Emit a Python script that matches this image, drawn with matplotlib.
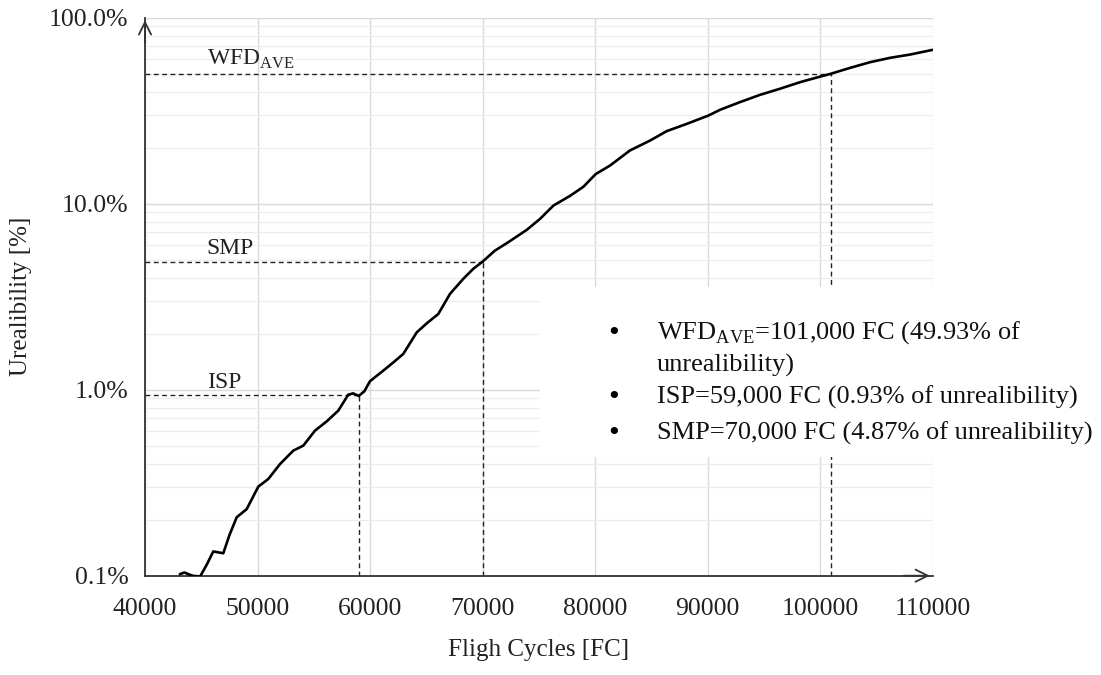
import numpy as np
import matplotlib
matplotlib.use('Agg')
import matplotlib.pyplot as plt
from matplotlib.ticker import FixedLocator, FuncFormatter, LogLocator, NullFormatter
from matplotlib.patches import Rectangle

plt.rcParams['font.family'] = ['Liberation Serif', 'DejaVu Serif']
plt.rcParams['mathtext.fontset'] = 'custom'
plt.rcParams['mathtext.rm'] = 'Liberation Serif'

# curve: flight cycles vs unreliability [%]
fc = [43100, 43500, 44200, 44900, 45500, 46070, 46960, 47500, 48150, 49040,
      50070, 50960, 52000, 53180, 54070, 55110, 56150, 57180, 58070, 58500,
      59000, 59500, 60000, 61180, 62070, 62960, 64150, 65040, 66070, 67110,
      68290, 69180, 70000, 71110, 72150, 73930, 75110, 76300, 77780, 78960,
      80060, 81330, 83110, 84890, 86370, 88150, 90070, 91110, 92890, 94670,
      96440, 98220, 100060, 101000, 102670, 104440, 106220, 108000, 110000]
unrel = [0.102, 0.104, 0.100, 0.099, 0.115, 0.135, 0.132, 0.165, 0.206, 0.228,
         0.301, 0.331, 0.398, 0.470, 0.50, 0.602, 0.675, 0.771, 0.94, 0.955,
         0.925, 0.98, 1.11, 1.265, 1.40, 1.556, 2.03, 2.27, 2.55, 3.27,
         3.94, 4.46, 4.87, 5.59, 6.12, 7.22, 8.27, 9.75, 11.0, 12.3,
         14.4, 16.0, 19.3, 21.8, 24.5, 26.8, 29.7, 31.9, 35.1, 38.4,
         41.4, 44.9, 48.2, 49.93, 53.6, 57.5, 60.7, 63.2, 67.0]

# marked points
mark_names = [r'WFD$_{\mathrm{AVE}}$', 'SMP', 'ISP']
mark_fc = [101000, 70000, 59000]
mark_val = [49.93, 4.87, 0.93]

legend_lines = [r'WFD$_{\mathrm{AVE}}$=101,000 FC (49.93% of',
                'unrealibility)',
                'ISP=59,000 FC (0.93% of unrealibility)',
                'SMP=70,000 FC (4.87% of unrealibility)']

W, H = 1101, 675
fig = plt.figure(figsize=(W / 100, H / 100), dpi=100)
ax = fig.add_axes([145 / W, 1 - 575.7 / H, (932.5 - 145) / W, (575.7 - 17.5) / H])

ax.set_yscale('log')
ax.set_xlim(40000, 110000)
ax.set_ylim(0.1, 100)

ax.xaxis.set_major_locator(FixedLocator(np.arange(40000, 110001, 10000)))
ax.yaxis.set_major_locator(FixedLocator([0.1, 1, 10, 100]))
ax.yaxis.set_minor_locator(LogLocator(base=10, subs=np.arange(2, 10)))
ax.yaxis.set_minor_formatter(NullFormatter())
ax.yaxis.set_major_formatter(FuncFormatter(lambda v, p: '%.1f%%' % v))

ax.grid(True, which='major', color='#d9d9d9', lw=1.0)
ax.grid(True, which='minor', axis='y', color='#ededed', lw=0.9)
ax.set_axisbelow(True)

for s in ['top', 'right']:
    ax.spines[s].set_visible(False)
for s in ['left', 'bottom']:
    ax.spines[s].set_color('#333333')
    ax.spines[s].set_linewidth(1.3)

ax.tick_params(axis='both', which='both', length=0, labelsize=18.5, colors='#222222')
ax.tick_params(axis='x', pad=16)
ax.tick_params(axis='y', pad=12)

# arrow heads on the axes
ax.annotate('', xy=(0, 1.0), xytext=(0, 0.95), xycoords='axes fraction',
            arrowprops=dict(arrowstyle='->', lw=1.3, color='#333333', mutation_scale=22),
            annotation_clip=False)
ax.annotate('', xy=(1.0, 0), xytext=(0.96, 0), xycoords='axes fraction',
            arrowprops=dict(arrowstyle='->', lw=1.3, color='#333333', mutation_scale=22),
            annotation_clip=False)

ax.plot(fc, unrel, color='black', lw=1.9, zorder=3, solid_joinstyle='round',
        solid_capstyle='round')

for name, xv, yv in zip(mark_names, mark_fc, mark_val):
    ax.plot([40000, xv], [yv, yv], color='#222222', lw=1.0, dashes=(3.5, 2.5), zorder=2)
    ax.plot([xv, xv], [0.1, yv], color='#222222', lw=1.0, dashes=(3.5, 2.5), zorder=2)
    ax.annotate(name, (45500, yv), xytext=(0, 2), textcoords='offset points',
                va='bottom', ha='left', fontsize=17, color='#222222')

ax.set_xlabel('Fligh Cycles [FC]', fontsize=18, labelpad=14, color='#222222')
ax.set_ylabel('Urealibility [%]', fontsize=18, labelpad=12, color='#222222')

# white box holding the bullet notes
fig.patches.append(Rectangle((540 / W, 1 - 457 / H), (W - 540) / W, 170 / H,
                             transform=fig.transFigure, facecolor='white',
                             edgecolor='none', zorder=5))
rows_y = [333, 365, 397, 433]
bullet_rows = [True, False, True, True]
for txt, ry, b in zip(legend_lines, rows_y, bullet_rows):
    if b:
        fig.text(614 / W, 1 - ry / H, u'\u2022', fontsize=18, ha='center', va='center',
                 zorder=6, family='DejaVu Sans')
    fig.text(657 / W, 1 - ry / H, txt, fontsize=19, ha='left', va='center',
             zorder=6, color='#111111')

fig.savefig('out.png', dpi=100)
